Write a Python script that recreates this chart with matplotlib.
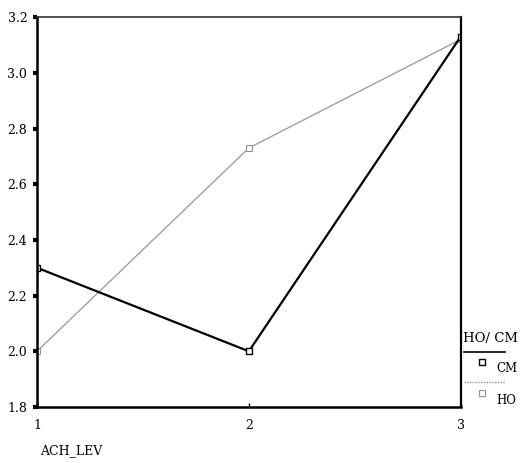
import numpy as np
import matplotlib.pyplot as plt

plt.rcParams['font.family'] = ['DejaVu Serif', 'Liberation Serif']

ach_lev = [1, 2, 3]
cm_vals = [2.30, 2.00, 3.13]
ho_vals = [2.00, 2.73, 3.12]
y_ticks = [1.8, 2.0, 2.2, 2.4, 2.6, 2.8, 3.0, 3.2]

fig = plt.figure(figsize=(5.25, 4.63), dpi=100)
ax = fig.add_axes([0.0705, 0.121, 0.807, 0.842])

ax.plot(ach_lev, ho_vals, color='#a0a0a0', lw=1.0, marker='s', ms=4,
        mfc='white', mec='#909090', mew=0.8)
ax.plot(ach_lev, cm_vals, color='black', lw=1.6, marker='s', ms=4,
        mfc='white', mec='black', mew=1.0)

ax.set_xlim(1, 3)
ax.set_ylim(1.8, 3.2)
ax.set_xticks(ach_lev)
ax.set_yticks(y_ticks)
ax.set_xticklabels([str(v) for v in ach_lev], fontsize=9)
ax.set_yticklabels(['%.1f' % v for v in y_ticks], fontsize=9)
ax.tick_params(axis='y', direction='out', length=3, width=3, pad=4)
ax.tick_params(axis='x', direction='in', length=3, width=1, pad=9)

for side in ['left', 'bottom']:
    ax.spines[side].set_linewidth(1.8)
ax.spines['right'].set_linewidth(1.6)
ax.spines['top'].set_linewidth(1.2)
ax.spines['top'].set_color('#333333')

fig.text(0.076, 0.012, 'ACH_LEV', fontsize=9, ha='left', va='bottom')

# legend
fig.text(0.882, 0.255, 'HO/ CM', fontsize=9.5, ha='left', va='bottom')
fig.add_artist(plt.Line2D([0.884, 0.962], [0.240, 0.240], color='black', lw=1.2))
fig.add_artist(plt.Line2D([0.918], [0.219], marker='s', ms=4, mfc='white',
                          mec='black', mew=1.0, ls='none'))
fig.text(0.945, 0.19, 'CM', fontsize=8.5, ha='left', va='bottom')
fig.add_artist(plt.Line2D([0.884, 0.962], [0.175, 0.175], color='#909090', lw=1.0,
                          ls=(0, (1, 1))))
fig.add_artist(plt.Line2D([0.918], [0.151], marker='s', ms=4, mfc='white',
                          mec='#909090', mew=0.8, ls='none'))
fig.text(0.945, 0.12, 'HO', fontsize=8.5, ha='left', va='bottom')

fig.savefig('out.png', dpi=100)
